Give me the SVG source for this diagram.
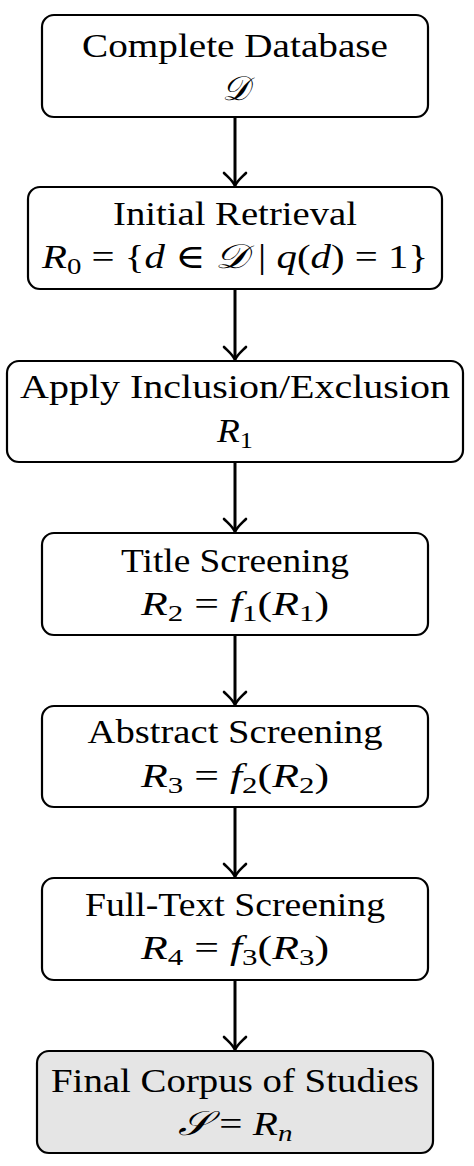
<svg xmlns="http://www.w3.org/2000/svg" width="474" height="1166" viewBox="0 0 474 1166">
<defs>
<path id="ah" d="M-11,-13 C-6,-8 -2,-5 0,0 C2,-5 6,-8 11,-13" fill="none" stroke="#000" stroke-width="2.6" stroke-linecap="round"/>
<style>
.box{fill:#fff;stroke:#000;stroke-width:2.2}
.final{fill:#e5e5e5}
text{font-family:"Liberation Serif","DejaVu Serif",serif;font-size:34px;fill:#000;text-anchor:middle}
.i{font-style:italic}
.sub{font-size:24px}
.edge{stroke:#000;stroke-width:3;fill:none}
</style>
</defs>
<g id="connectors">
<line class="edge" x1="235" y1="117" x2="235" y2="185"/>
<use href="#ah" x="235" y="186"/>
<line class="edge" x1="235" y1="289" x2="235" y2="359"/>
<use href="#ah" x="235" y="360"/>
<line class="edge" x1="235" y1="462" x2="235" y2="531"/>
<use href="#ah" x="235" y="532"/>
<line class="edge" x1="235" y1="635" x2="235" y2="704"/>
<use href="#ah" x="235" y="705"/>
<line class="edge" x1="235" y1="807" x2="235" y2="876"/>
<use href="#ah" x="235" y="877"/>
<line class="edge" x1="235" y1="980" x2="235" y2="1049"/>
<use href="#ah" x="235" y="1050"/>
</g>
<g id="n1">
<rect class="box" x="42" y="15" width="386" height="102" rx="12"/>
<text x="235" y="57" textLength="306" lengthAdjust="spacingAndGlyphs">Complete Database</text>
<text x="235" y="100" class="i">𝒟</text>
</g>
<g id="n2">
<rect class="box" x="28" y="187" width="414" height="102" rx="12"/>
<text x="235" y="225" textLength="244" lengthAdjust="spacingAndGlyphs">Initial Retrieval</text>
<text x="235" y="268" textLength="386" lengthAdjust="spacingAndGlyphs"><tspan class="i">R</tspan><tspan class="sub" dy="6">0</tspan><tspan dy="-6"> = {</tspan><tspan class="i">d</tspan> ∈ <tspan class="i">𝒟</tspan>  | <tspan class="i">q</tspan>(<tspan class="i">d</tspan>) = 1}</text>
</g>
<g id="n3">
<rect class="box" x="7" y="361" width="456" height="101" rx="12"/>
<text x="235" y="398" textLength="430" lengthAdjust="spacingAndGlyphs">Apply Inclusion/Exclusion</text>
<text x="235" y="442" textLength="36" lengthAdjust="spacingAndGlyphs"><tspan class="i">R</tspan><tspan class="sub" dy="6">1</tspan></text>
</g>
<g id="n4">
<rect class="box" x="42" y="533" width="386" height="102" rx="12"/>
<text x="235" y="572" textLength="228" lengthAdjust="spacingAndGlyphs">Title Screening</text>
<text x="235" y="615" textLength="188" lengthAdjust="spacingAndGlyphs"><tspan class="i">R</tspan><tspan class="sub" dy="6">2</tspan><tspan dy="-6"> = </tspan><tspan class="i">f</tspan><tspan class="sub" dy="6">1</tspan><tspan dy="-6">(</tspan><tspan class="i">R</tspan><tspan class="sub" dy="6">1</tspan><tspan dy="-6">)</tspan></text>
</g>
<g id="n5">
<rect class="box" x="42" y="706" width="386" height="101" rx="12"/>
<text x="235" y="743" textLength="295" lengthAdjust="spacingAndGlyphs">Abstract Screening</text>
<text x="235" y="787" textLength="188" lengthAdjust="spacingAndGlyphs"><tspan class="i">R</tspan><tspan class="sub" dy="6">3</tspan><tspan dy="-6"> = </tspan><tspan class="i">f</tspan><tspan class="sub" dy="6">2</tspan><tspan dy="-6">(</tspan><tspan class="i">R</tspan><tspan class="sub" dy="6">2</tspan><tspan dy="-6">)</tspan></text>
</g>
<g id="n6">
<rect class="box" x="42" y="878" width="386" height="102" rx="12"/>
<text x="235" y="916" textLength="300" lengthAdjust="spacingAndGlyphs">Full-Text Screening</text>
<text x="235" y="959" textLength="188" lengthAdjust="spacingAndGlyphs"><tspan class="i">R</tspan><tspan class="sub" dy="6">4</tspan><tspan dy="-6"> = </tspan><tspan class="i">f</tspan><tspan class="sub" dy="6">3</tspan><tspan dy="-6">(</tspan><tspan class="i">R</tspan><tspan class="sub" dy="6">3</tspan><tspan dy="-6">)</tspan></text>
</g>
<g id="n7">
<rect class="box final" x="37" y="1051" width="396" height="102" rx="12"/>
<text x="235" y="1092" textLength="368" lengthAdjust="spacingAndGlyphs">Final Corpus of Studies</text>
<text x="235" y="1135" textLength="115" lengthAdjust="spacingAndGlyphs"><tspan class="i">𝒮</tspan>  = <tspan class="i">R</tspan><tspan class="sub i" dy="6">n</tspan></text>
</g>
</svg>
